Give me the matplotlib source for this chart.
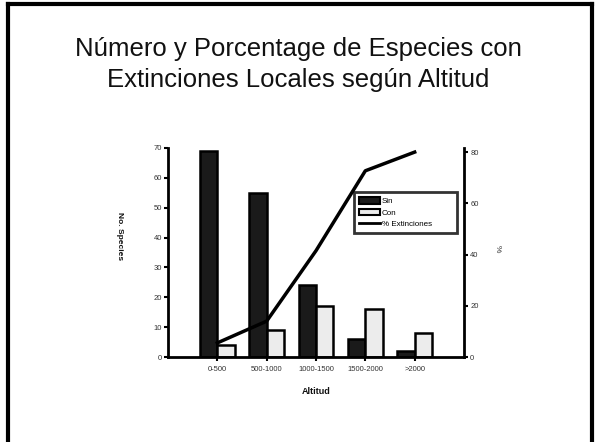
import matplotlib
matplotlib.use("Agg")
import matplotlib.pyplot as plt
from matplotlib.lines import Line2D
from matplotlib.patches import Patch

plt.rcParams['font.family'] = ['Liberation Sans', 'DejaVu Sans']

categories = ["0-500", "500-1000", "1000-1500", "1500-2000", ">2000"]
sin_vals = [69, 55, 24, 6, 2]
con_vals = [4, 9, 17, 16, 8]
pct_ext = [5.5, 14, 41.5, 72.7, 80]

W, H, DPI = 597, 442, 100
fig = plt.figure(figsize=(W / DPI, H / DPI), dpi=DPI)
fig.patch.set_facecolor("white")


def fx(px):
    return px / W


def fy(py):
    return 1 - py / H


# slide frame (open at the bottom)
frame_kw = dict(color="black", lw=3.0, transform=fig.transFigure, solid_capstyle="projecting")
fig.add_artist(Line2D([fx(7.5), fx(7.5)], [fy(3.8), fy(445)], **frame_kw))
fig.add_artist(Line2D([fx(591.5), fx(591.5)], [fy(3.8), fy(445)], **frame_kw))
fig.add_artist(Line2D([fx(7.5), fx(591.5)], [fy(3.8), fy(3.8)], **frame_kw))

fig.text(0.5, fy(49), "Número y Porcentage de Especies con", ha="center", va="center",
         fontsize=18.5, color="#111111")
fig.text(0.5, fy(80.5), "Extinciones Locales según Altitud", ha="center", va="center",
         fontsize=18.5, color="#111111")

left, right, top, bottom = 168, 464, 148, 357
ax = fig.add_axes([fx(left), fy(bottom), fx(right) - fx(left), (bottom - top) / H])
ax2 = ax.twinx()

x = list(range(1, len(categories) + 1))
bw = 0.35
ax.bar([xi - bw / 2 for xi in x], sin_vals, width=bw, color="#1a1a1a",
       edgecolor="black", linewidth=1.8, zorder=2)
ax.bar([xi + bw / 2 for xi in x], con_vals, width=bw, color="#ececec",
       edgecolor="black", linewidth=1.8, zorder=2)
ax2.plot(x, pct_ext, color="black", lw=2.5, zorder=3)

ax.set_xlim(0, 6)
ax.set_ylim(0, 70)
ax2.set_ylim(0, 81.6)
ax.set_xticks(x)
ax.set_xticklabels(categories)
ax.set_yticks(range(0, 71, 10))
ax2.set_yticks(range(0, 81, 20))

for a in (ax, ax2):
    a.spines["top"].set_visible(False)
    for s in a.spines.values():
        s.set_linewidth(2.0)
    a.tick_params(axis="both", length=3, width=1.5, labelsize=5.5, labelcolor="#333333", pad=1.5)
ax.spines["right"].set_visible(False)
ax2.spines["left"].set_visible(False)
ax2.spines["bottom"].set_visible(False)
ax.tick_params(axis="x", pad=3.5)

ax.set_ylabel("No. Species", fontsize=6, fontweight="bold", rotation=270, labelpad=0,
              color="#111111")
ax.yaxis.set_label_coords(-0.175, 0.58)
ax2.set_ylabel("%", fontsize=6, rotation=270, color="#333333")
ax2.yaxis.set_label_coords(1.125, 0.52)
ax.set_xlabel("Altitud", fontsize=6.5, fontweight="bold", color="#111111")
ax.xaxis.set_label_coords(0.5, -0.145)

handles = [Patch(facecolor="#1a1a1a", edgecolor="black", linewidth=1.5),
           Patch(facecolor="#ececec", edgecolor="black", linewidth=1.5),
           Line2D([0], [0], color="black", lw=2)]
span = right - left
height = bottom - top
leg_box = ((354 - left) / span, 1 - (234 - top) / height,
           (457 - 354) / span, (234 - 192) / height)
leg = ax2.legend(handles, ["Sin", "Con", "% Extinciones"], loc="upper left",
                 bbox_to_anchor=leg_box, mode="expand",
                 fontsize=5.8, frameon=True, fancybox=False, borderpad=0.6,
                 handlelength=2.6, handleheight=0.9, handletextpad=0.25, labelspacing=0.45,
                 borderaxespad=0)
leg.get_frame().set_edgecolor("black")
leg.get_frame().set_linewidth(2.0)

fig.savefig("out.png", dpi=DPI)
